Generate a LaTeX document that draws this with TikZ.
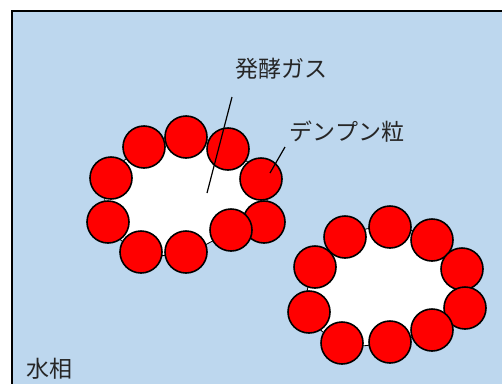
\documentclass[tikz,border=0pt]{standalone}
\usepackage{fontspec}
\newfontfamily\jp{Noto Sans CJK JP}
\definecolor{water}{HTML}{BDD7EE}
\definecolor{grain}{HTML}{FF0000}
\begin{document}
\begin{tikzpicture}[x=1pt,y=-1pt,
  grainball/.style={circle,draw=black,fill=grain,line width=1.6pt,minimum size=42pt,inner sep=0pt},
  gasblob/.style={fill=white,draw=black,line width=0.8pt},
  label/.style={font=\jp\fontsize{23}{23}\selectfont,text=black!85,inner sep=0pt},
  leader/.style={draw=black,line width=1.2pt}]
\useasboundingbox (0,0) rectangle (502,383);
\fill[white] (0,0) rectangle (502,383);
% aqueous phase
\draw[fill=water,line width=2.4pt] (12,11) rectangle (520,400);

% first gas bubble
\draw[gasblob] plot[smooth cycle,tension=0.7] coordinates
  {(144,147) (186,137) (228,149) (261,179) (264,222) (231,232) (186,252) (141,252) (108,222) (111,178)};
\node[grainball] (a1) at (144,147) {};
\node[grainball] (a2) at (186,137) {};
\node[grainball] (a3) at (228,149) {};
\node[grainball] (a4) at (261,179) {};
\node[grainball] (a5) at (111,178) {};
\node[grainball] (a6) at (108,222) {};
\node[grainball] (a7) at (141,252) {};
\node[grainball] (a8) at (186,252) {};
\node[grainball] (a10) at (264,222) {};
\node[grainball] (a9) at (231,230) {};

% second gas bubble
\draw[gasblob] plot[smooth cycle,tension=0.7] coordinates
  {(345,237) (390,227) (432,240) (462,269) (465,308) (432,330) (390,342) (342,343) (309,312) (315,267)};
\node[grainball] (b1) at (345,237) {};
\node[grainball] (b2) at (390,227) {};
\node[grainball] (b3) at (432,240) {};
\node[grainball] (b4) at (462,269) {};
\node[grainball] (b10) at (465,308) {};
\node[grainball] (b9) at (432,330) {};
\node[grainball] (b8) at (390,342) {};
\node[grainball] (b7) at (342,343) {};
\node[grainball] (b6) at (309,312) {};
\node[grainball] (b5) at (315,267) {};

% labels and leaders
\node[label] (gas) at (281,69) {発酵ガス};
\node[label] (starch) at (347,132) {デンプン粒};
\node[label] (aq) at (49,369) {水相};
\coordinate (gasTop) at (232,97);
\coordinate (gasEnd) at (207,193);
\coordinate (stTop) at (285,147);
\coordinate (stEnd) at (270,173);
\draw[leader] (gasTop) -- (gasEnd);
\draw[leader] (stTop) -- (stEnd);
\end{tikzpicture}
\end{document}
